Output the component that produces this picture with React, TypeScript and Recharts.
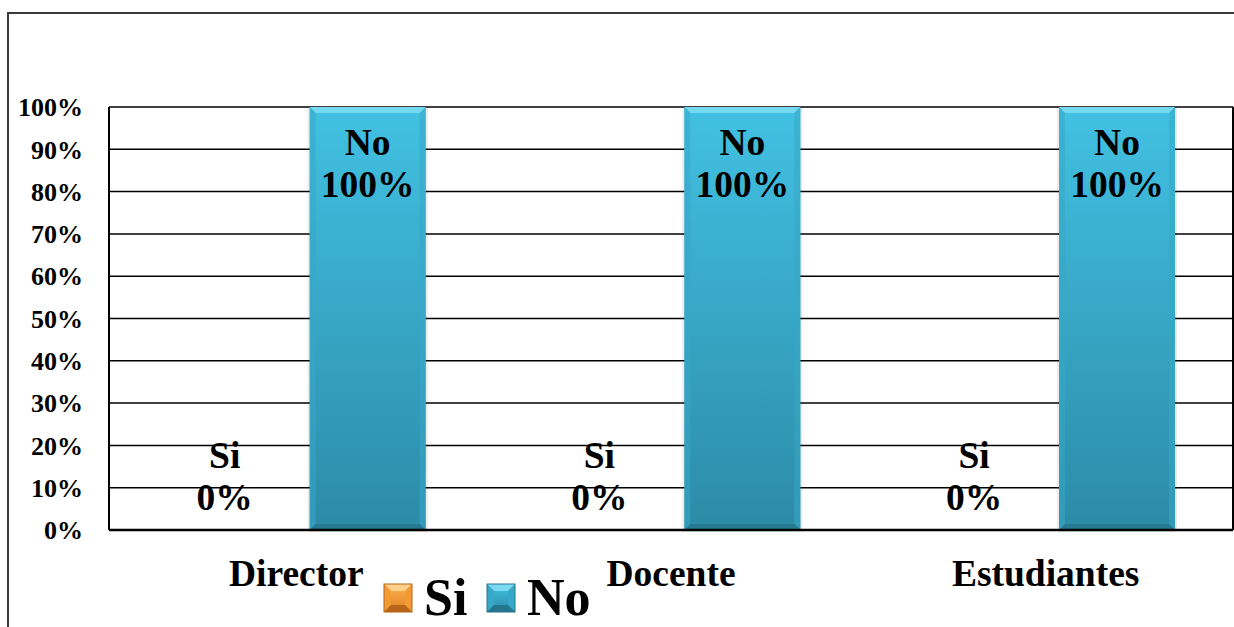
import React from 'react';
import { BarChart, Bar, XAxis, YAxis, CartesianGrid, Legend, LabelList } from 'recharts';

const categories = ['Director', 'Docente', 'Estudiantes'];
const siValues = [0, 0, 0];
const noValues = [100, 100, 100];
const yTicks = [0, 10, 20, 30, 40, 50, 60, 70, 80, 90, 100];
const seriesNames = ['Si', 'No'];

const data = categories.map((c, i) => ({ name: c, Si: siValues[i], No: noValues[i] }));

const FONT = '"Liberation Serif", "Times New Roman", serif';

const palettes: Record<string, { top: string; bottom: string; light: string; dark: string; side: string }> = {
  Si: { top: '#FDB455', bottom: '#E07F1F', light: '#FFD08A', dark: '#B8651A', side: '#F29B35' },
  No: { top: '#42C1E3', bottom: '#2C8BA7', light: '#7ADAF3', dark: '#24758D', side: '#37A8C7' },
};

const BevelRect = ({ x, y, width, height, kind, shadow }: any) => {
  if (!height || height <= 0 || !width) return null;
  const p = palettes[kind];
  const b = Math.min(6, width / 4, height / 4);
  const gid = `grad-${kind}`;
  return (
    <g>
      {shadow && (
        <rect x={x - 2} y={y} width={width + 4} height={height + 2} fill="#000" opacity={0.08} />
      )}
      <rect x={x} y={y} width={width} height={height} fill={`url(#${gid})`} />
      <polygon points={`${x},${y} ${x + width},${y} ${x + width - b},${y + b} ${x + b},${y + b}`} fill={p.light} opacity={0.9} />
      <polygon points={`${x},${y} ${x + b},${y + b} ${x + b},${y + height - b} ${x},${y + height}`} fill={p.side} opacity={0.55} />
      <polygon points={`${x + width},${y} ${x + width - b},${y + b} ${x + width - b},${y + height - b} ${x + width},${y + height}`} fill={p.side} opacity={0.55} />
      <polygon points={`${x},${y + height} ${x + b},${y + height - b} ${x + width - b},${y + height - b} ${x + width},${y + height}`} fill={p.dark} opacity={0.8} />
    </g>
  );
};

const makeLabel = (seriesName: string) => (props: any) => {
  const { x, y, width, height, value } = props;
  const cx = x + width / 2;
  const top = Math.min(y, y + height);
  const txt = `${value}%`;
  const y1 = value === 0 ? top - 62 : top + 48;
  const y2 = value === 0 ? top - 20 : top + 90;
  return (
    <g>
      <text x={cx} y={y1} textAnchor="middle" fontFamily={FONT} fontWeight="bold" fontSize={37.5} fill="#000">{seriesName}</text>
      <text x={cx} y={y2} textAnchor="middle" fontFamily={FONT} fontWeight="bold" fontSize={37.5} fill="#000">{txt}</text>
    </g>
  );
};

const LegendContent = () => (
  <svg width={230} height={56} style={{ overflow: 'visible' }}>
    <defs>
      <linearGradient id="lg-Si" x1="0" y1="0" x2="0" y2="1">
        <stop offset="0%" stopColor={palettes.Si.top} />
        <stop offset="100%" stopColor={palettes.Si.bottom} />
      </linearGradient>
      <linearGradient id="lg-No" x1="0" y1="0" x2="0" y2="1">
        <stop offset="0%" stopColor={palettes.No.top} />
        <stop offset="100%" stopColor={palettes.No.bottom} />
      </linearGradient>
    </defs>
    {seriesNames.map((n, i) => {
      const sx = i * 103;
      const p = palettes[n];
      const s = 28;
      const b = 7;
      const y0 = 9;
      return (
        <g key={n}>
          <rect x={sx} y={y0} width={s} height={s} fill={`url(#lg-${n})`} />
          <polygon points={`${sx},${y0} ${sx + s},${y0} ${sx + s - b},${y0 + b} ${sx + b},${y0 + b}`} fill={p.light} />
          <polygon points={`${sx},${y0} ${sx + b},${y0 + b} ${sx + b},${y0 + s - b} ${sx},${y0 + s}`} fill={p.side} />
          <polygon points={`${sx + s},${y0} ${sx + s - b},${y0 + b} ${sx + s - b},${y0 + s - b} ${sx + s},${y0 + s}`} fill={p.side} />
          <polygon points={`${sx},${y0 + s} ${sx + b},${y0 + s - b} ${sx + s - b},${y0 + s - b} ${sx + s},${y0 + s}`} fill={p.dark} />
          <rect x={sx} y={y0} width={s} height={s} fill="none" stroke={p.dark} strokeWidth={1} />
          <text x={sx + 40} y={y0 + 31} fontFamily={FONT} fontWeight="bold" fontSize={52} fill="#000">{n}</text>
        </g>
      );
    })}
  </svg>
);

export default function App() {
  return (
    <div style={{ position: 'fixed', left: 0, top: 0, width: 1234, height: 627, overflow: 'hidden', background: '#fff' }}>
      <div style={{ position: 'absolute', left: 7, top: 12, width: 1400, height: 800, border: '2px solid #3a3a3a', boxSizing: 'border-box' }} />
      <div style={{ position: 'absolute', left: 0, top: 0 }}>
        <BarChart
          width={1234}
          height={627}
          data={data}
          margin={{ top: 107, right: 0, bottom: 0, left: 0 }}
          barCategoryGap="15.4%"
          barGap={27}
        >
          <defs>
            <linearGradient id="grad-Si" x1="0" y1="0" x2="0" y2="1">
              <stop offset="0%" stopColor={palettes.Si.top} />
              <stop offset="100%" stopColor={palettes.Si.bottom} />
            </linearGradient>
            <linearGradient id="grad-No" x1="0" y1="0" x2="0" y2="1">
              <stop offset="0%" stopColor={palettes.No.top} />
              <stop offset="100%" stopColor={palettes.No.bottom} />
            </linearGradient>
          </defs>
          <CartesianGrid yAxisId="left" vertical={false} stroke="#000" strokeWidth={1.5} />
          <XAxis
            dataKey="name"
            height={97}
            axisLine={{ stroke: '#000', strokeWidth: 2.5 }}
            tickLine={false}
            tickSize={0}
            tickMargin={29}
            interval={0}
            tick={{ fill: '#000', fontSize: 37.5, fontWeight: 'bold', fontFamily: FONT }}
          />
          <YAxis
            yAxisId="left"
            width={109}
            domain={[0, 100]}
            ticks={yTicks}
            tickFormatter={(v: number) => `${v}%`}
            axisLine={{ stroke: '#000', strokeWidth: 2 }}
            tickLine={false}
            tickSize={0}
            tickMargin={26}
            tick={{ fill: '#000', fontSize: 26, fontWeight: 'bold', fontFamily: FONT }}
          />
          <YAxis
            yAxisId="right"
            orientation="right"
            width={1}
            domain={[0, 100]}
            axisLine={{ stroke: '#000', strokeWidth: 2 }}
            tickLine={false}
            tick={false}
          />
          <Legend
            layout="horizontal"
            verticalAlign="middle"
            align="center"
            content={<LegendContent />}
            wrapperStyle={{ position: 'absolute', left: 384, top: 575, width: 230, height: 56 }}
          />
          <Bar yAxisId="left" dataKey="Si" name="Si" isAnimationActive={false} shape={(p: any) => <BevelRect {...p} kind="Si" />}>
            <LabelList dataKey="Si" content={makeLabel('Si')} />
          </Bar>
          <Bar yAxisId="left" dataKey="No" name="No" isAnimationActive={false} shape={(p: any) => <BevelRect {...p} kind="No" shadow />}>
            <LabelList dataKey="No" content={makeLabel('No')} />
          </Bar>
        </BarChart>
      </div>
    </div>
  );
}
